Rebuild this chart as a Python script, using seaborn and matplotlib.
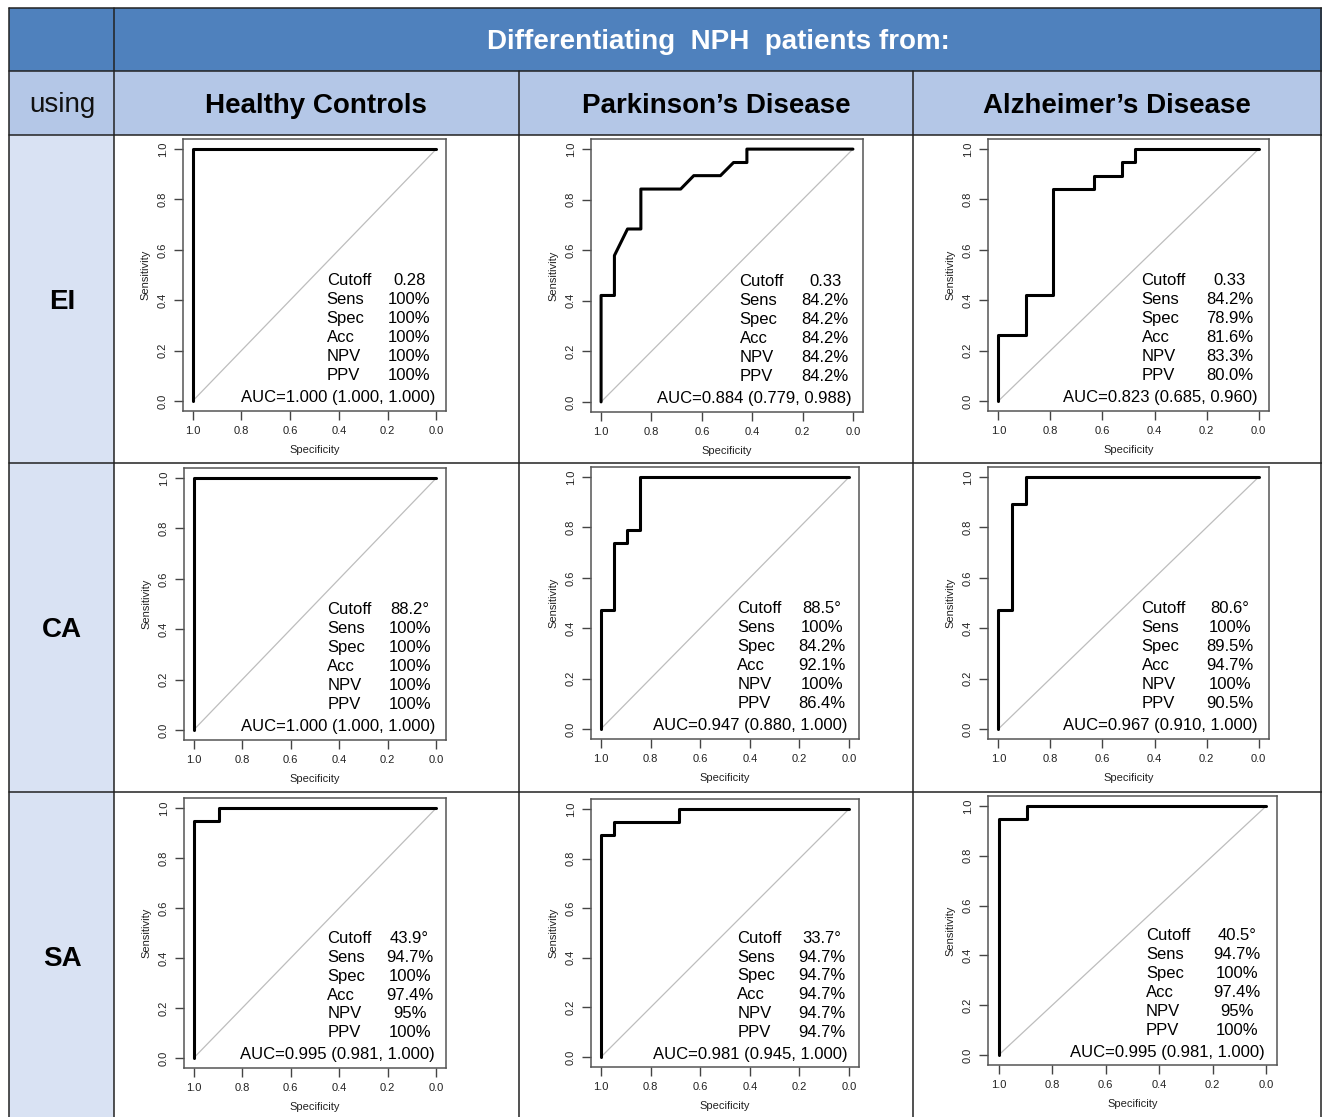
import numpy as np
import pandas as pd
import matplotlib
matplotlib.use("Agg")
import matplotlib.pyplot as plt
import seaborn as sns

W, H = 1322, 1117

# ---- table text ----
HEADER = "Differentiating  NPH  patients from:"
CORNER = "using"
GROUPS = ["Healthy Controls", "Parkinson\u2019s Disease", "Alzheimer\u2019s Disease"]
MEASURES = ["EI", "CA", "SA"]
STAT_NAMES = ["Cutoff", "Sens", "Spec", "Acc", "NPV", "PPV"]

# ---- ROC curves (specificity, sensitivity) ----
ei_hc_spec = [1.0, 1.0, 0.0]
ei_hc_sens = [0.0, 1.0, 1.0]
ei_pd_spec = [1.0, 1.0, 0.947, 0.947, 0.895, 0.842, 0.842, 0.684, 0.632, 0.526, 0.474, 0.421, 0.421, 0.0]
ei_pd_sens = [0.0, 0.421, 0.421, 0.579, 0.684, 0.684, 0.842, 0.842, 0.895, 0.895, 0.947, 0.947, 1.0, 1.0]
ei_ad_spec = [1.0, 1.0, 0.895, 0.895, 0.789, 0.789, 0.632, 0.632, 0.526, 0.526, 0.474, 0.474, 0.0]
ei_ad_sens = [0.0, 0.263, 0.263, 0.421, 0.421, 0.842, 0.842, 0.895, 0.895, 0.947, 0.947, 1.0, 1.0]

ca_hc_spec = [1.0, 1.0, 0.0]
ca_hc_sens = [0.0, 1.0, 1.0]
ca_pd_spec = [1.0, 1.0, 0.947, 0.947, 0.895, 0.895, 0.842, 0.842, 0.0]
ca_pd_sens = [0.0, 0.474, 0.474, 0.737, 0.737, 0.789, 0.789, 1.0, 1.0]
ca_ad_spec = [1.0, 1.0, 0.947, 0.947, 0.895, 0.895, 0.0]
ca_ad_sens = [0.0, 0.474, 0.474, 0.895, 0.895, 1.0, 1.0]

sa_hc_spec = [1.0, 1.0, 0.895, 0.895, 0.0]
sa_hc_sens = [0.0, 0.947, 0.947, 1.0, 1.0]
sa_pd_spec = [1.0, 1.0, 0.947, 0.947, 0.684, 0.684, 0.0]
sa_pd_sens = [0.0, 0.895, 0.895, 0.947, 0.947, 1.0, 1.0]
sa_ad_spec = [1.0, 1.0, 0.895, 0.895, 0.0]
sa_ad_sens = [0.0, 0.947, 0.947, 1.0, 1.0]

# ---- printed statistics ----
ei_stats = [["0.28", "100%", "100%", "100%", "100%", "100%"],
            ["0.33", "84.2%", "84.2%", "84.2%", "84.2%", "84.2%"],
            ["0.33", "84.2%", "78.9%", "81.6%", "83.3%", "80.0%"]]
ca_stats = [["88.2\u00b0", "100%", "100%", "100%", "100%", "100%"],
            ["88.5\u00b0", "100%", "84.2%", "92.1%", "100%", "86.4%"],
            ["80.6\u00b0", "100%", "89.5%", "94.7%", "100%", "90.5%"]]
sa_stats = [["43.9\u00b0", "94.7%", "100%", "97.4%", "95%", "100%"],
            ["33.7\u00b0", "94.7%", "94.7%", "94.7%", "94.7%", "94.7%"],
            ["40.5\u00b0", "94.7%", "100%", "97.4%", "95%", "100%"]]

auc = [[1.000, 0.884, 0.823], [1.000, 0.947, 0.967], [0.995, 0.981, 0.995]]
auc_lo = [[1.000, 0.779, 0.685], [1.000, 0.880, 0.910], [0.981, 0.945, 0.981]]
auc_hi = [[1.000, 0.988, 0.960], [1.000, 1.000, 1.000], [1.000, 1.000, 1.000]]

curves = [
    [(ei_hc_spec, ei_hc_sens), (ei_pd_spec, ei_pd_sens), (ei_ad_spec, ei_ad_sens)],
    [(ca_hc_spec, ca_hc_sens), (ca_pd_spec, ca_pd_sens), (ca_ad_spec, ca_ad_sens)],
    [(sa_hc_spec, sa_hc_sens), (sa_pd_spec, sa_pd_sens), (sa_ad_spec, sa_ad_sens)],
]
stats = [ei_stats, ca_stats, sa_stats]

# plot boxes in pixels: left, top, right, bottom
boxes = [
    [(183, 139, 446, 411), (591, 139, 863, 412), (988, 139, 1269, 411)],
    [(184, 468, 446, 740), (591, 467, 859, 739), (988, 467, 1269, 739)],
    [(184, 798, 446, 1068), (591, 799, 859, 1067), (988, 796, 1277, 1065)],
]

sns.set_theme(style="white")
plt.rcParams["font.family"] = ["Liberation Sans", "DejaVu Sans"]

fig = plt.figure(figsize=(W / 100, H / 100), dpi=100)

# background table
bg = fig.add_axes([0, 0, 1, 1], zorder=0)
bg.set_xlim(0, W)
bg.set_ylim(H, 0)
bg.axis("off")
bg.add_patch(plt.Rectangle((9, 8), W - 9, 63, color="#4F81BD", lw=0))
bg.add_patch(plt.Rectangle((9, 71), W - 9, 64, color="#B4C7E7", lw=0))
bg.add_patch(plt.Rectangle((9, 135), 105, H - 135, color="#D9E2F3", lw=0))
lc = "#222222"
for y in [8, 71, 135, 463, 792]:
    bg.plot([9, W], [y, y], color=lc, lw=1.1)
for x in [9, 114, W - 1]:
    bg.plot([x, x], [8, H], color=lc, lw=1.1)
for x in [519, 913]:
    bg.plot([x, x], [71, H], color=lc, lw=1.1)

bg.text((114 + W) / 2, 42, HEADER, color="white", fontsize=20, fontweight="bold",
        ha="center", va="center")
bg.text(62, 105, CORNER, color="#111111", fontsize=20, ha="center", va="center")
col_centers = [316, 716, 1117]
for cx, g in zip(col_centers, GROUPS):
    bg.text(cx, 106, g, color="black", fontsize=20, fontweight="bold", ha="center", va="center")
row_centers = [302, 630, 959]
for cy, m in zip(row_centers, MEASURES):
    bg.text(62, cy, m, color="black", fontsize=20, fontweight="bold", ha="center", va="center")

ticks = [0.0, 0.2, 0.4, 0.6, 0.8, 1.0]
for i in range(3):
    for j in range(3):
        l, t, r, b = boxes[i][j]
        ax = fig.add_axes([l / W, 1 - b / H, (r - l) / W, (b - t) / H], zorder=2)
        ax.set_facecolor("none")
        spec, sens = curves[i][j]
        df = pd.DataFrame({"Specificity": spec, "Sensitivity": sens})
        ax.plot([1, 0], [0, 1], color="#BDBDBD", lw=0.9, zorder=1)
        sns.lineplot(data=df, x="Specificity", y="Sensitivity", sort=False, estimator=None,
                     color="black", lw=2.2, ax=ax, zorder=3)
        ax.set_xlim(1.04, -0.04)
        ax.set_ylim(-0.04, 1.04)
        ax.set_xticks(ticks)
        ax.set_yticks(ticks)
        ax.set_xticklabels([f"{v:.1f}" for v in ticks])
        ax.set_yticklabels([f"{v:.1f}" for v in ticks], rotation=90, va="center")
        ax.tick_params(axis="both", direction="out", length=6.5, width=1.0, color="#444444",
                       labelsize=8, labelcolor="#222222", pad=4.5,
                       bottom=True, left=True, top=False, right=False)
        for s in ax.spines.values():
            s.set_color("#555555")
            s.set_linewidth(1.1)
            s.set_visible(True)
        ax.set_xlabel("Specificity", fontsize=8, color="#222222", labelpad=6)
        ax.set_ylabel("Sensitivity", fontsize=8, color="#222222", labelpad=5)

        vals = stats[i][j]
        for k, (name, v) in enumerate(zip(STAT_NAMES, vals)):
            yy = 0.478 - k * 0.0755
            ax.text(0.45, yy, name, fontsize=12, ha="left", va="center", color="black")
            ax.text(0.11, yy, v, fontsize=12, ha="center", va="center", color="black")
        ax.text(0.005, 0.012, f"AUC={auc[i][j]:.3f} ({auc_lo[i][j]:.3f}, {auc_hi[i][j]:.3f})",
                fontsize=12, ha="right", va="center", color="black")

fig.savefig("out.png", dpi=100)
